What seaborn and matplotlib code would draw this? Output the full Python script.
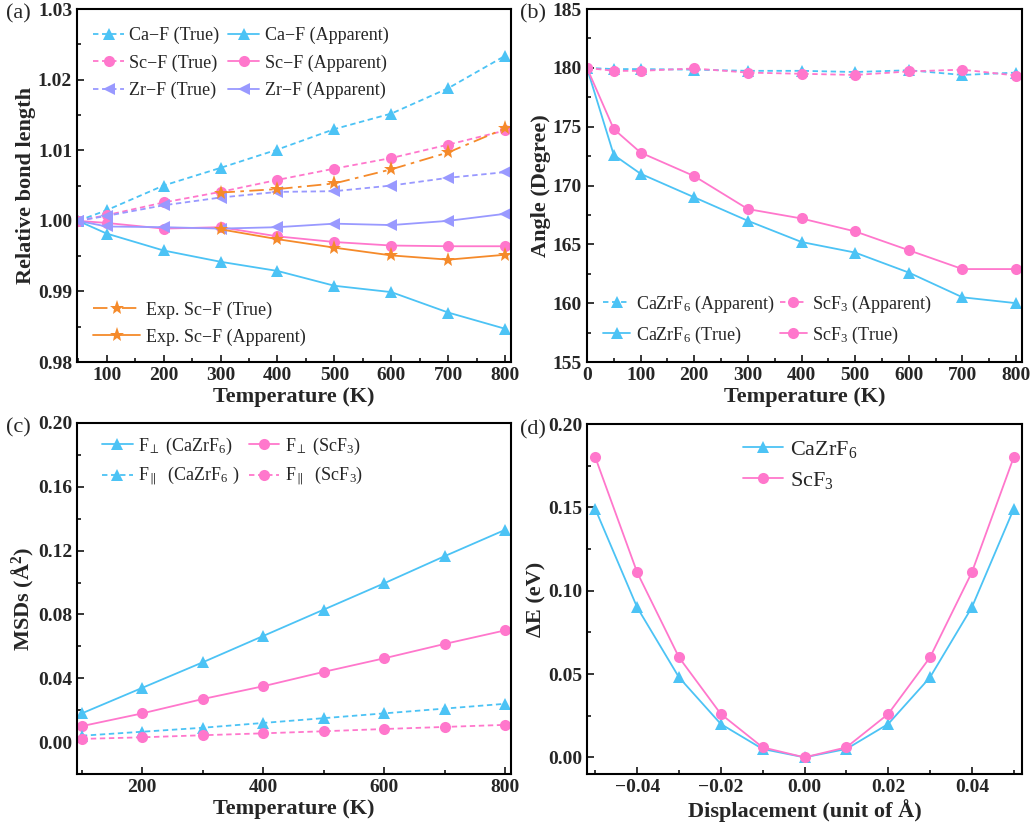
import numpy as np
import pandas as pd
import matplotlib
matplotlib.use("Agg")
import matplotlib.pyplot as plt
from matplotlib.ticker import MultipleLocator
import seaborn as sns

# Panel (a): relative bond length vs temperature
temp_a = [50, 100, 200, 300, 400, 500, 600, 700, 800]
caf_true = [1.000, 1.0015, 1.0050, 1.0075, 1.0101, 1.0130, 1.0152, 1.0188, 1.0234]
caf_app = [1.000, 0.9982, 0.9958, 0.9942, 0.9929, 0.9908, 0.9899, 0.9870, 0.9847]
scf_true = [1.000, 1.0008, 1.0026, 1.0041, 1.0058, 1.0074, 1.0089, 1.0108, 1.0128]
scf_app = [1.000, 0.9997, 0.9989, 0.9991, 0.9978, 0.9970, 0.9965, 0.9964, 0.9964]
zrf_true = [1.000, 1.0007, 1.0022, 1.0033, 1.0041, 1.0042, 1.0050, 1.0061, 1.0069]
zrf_app = [1.000, 0.9992, 0.9991, 0.9989, 0.9991, 0.9996, 0.9994, 1.0000, 1.0010]
temp_exp = [300, 400, 500, 600, 700, 800]
exp_true = [1.0040, 1.0045, 1.0053, 1.0073, 1.0097, 1.0131]
exp_app = [0.9988, 0.9974, 0.9962, 0.9951, 0.9945, 0.9952]

# Panel (b): bond angle vs temperature
temp_b = [0, 50, 100, 200, 300, 400, 500, 600, 700, 800]
ca_ang_app = [180.0, 179.9, 179.9, 179.85, 179.75, 179.75, 179.65, 179.8, 179.4, 179.6]
sc_ang_app = [180.0, 179.75, 179.75, 179.95, 179.6, 179.5, 179.4, 179.7, 179.85, 179.35]
ca_ang_true = [180.0, 172.6, 171.0, 169.0, 167.0, 165.2, 164.3, 162.6, 160.5, 160.0]
sc_ang_true = [180.0, 174.8, 172.8, 170.8, 168.0, 167.2, 166.1, 164.5, 162.9, 162.9]

# Panel (c): MSDs vs temperature
temp_c = [100, 200, 300, 400, 500, 600, 700, 800]
ca_perp = [0.018, 0.034, 0.050, 0.0665, 0.083, 0.0995, 0.1165, 0.133]
sc_perp = [0.010, 0.018, 0.027, 0.035, 0.044, 0.0525, 0.0615, 0.070]
ca_par = [0.004, 0.0065, 0.009, 0.012, 0.015, 0.018, 0.021, 0.024]
sc_par = [0.002, 0.003, 0.0043, 0.0055, 0.0068, 0.0082, 0.0095, 0.0108]

# Panel (d): energy vs displacement
disp = [-0.05, -0.04, -0.03, -0.02, -0.01, 0.0, 0.01, 0.02, 0.03, 0.04, 0.05]
ca_energy = [0.149, 0.090, 0.048, 0.020, 0.005, 0.0, 0.005, 0.020, 0.048, 0.090, 0.149]
sc_energy = [0.180, 0.111, 0.060, 0.026, 0.006, 0.0, 0.006, 0.026, 0.060, 0.111, 0.180]

BLUE = "#4CC3F5"
PINK = "#FF77CC"
LAV = "#9999FF"
ORANGE = "#F58A2A"

sns.set_style("ticks")
plt.rcParams["font.family"] = ["Liberation Serif", "DejaVu Sans"]
plt.rcParams["mathtext.fontset"] = "custom"
plt.rcParams["mathtext.rm"] = "Liberation Serif"
plt.rcParams["mathtext.it"] = "Liberation Serif:italic"
plt.rcParams["mathtext.bf"] = "Liberation Serif:bold"

fig = plt.figure(figsize=(10.33, 8.25), dpi=100)
ax_a = fig.add_axes([0.0745, 0.5612, 0.4202, 0.4278])
ax_b = fig.add_axes([0.5682, 0.5612, 0.4212, 0.4278])
ax_c = fig.add_axes([0.0745, 0.0618, 0.4202, 0.4255])
ax_d = fig.add_axes([0.5682, 0.0618, 0.4212, 0.4242])


def draw(ax, x, y, color, marker, ls, ms=8):
    sns.lineplot(x=x, y=y, ax=ax, color=color, marker=marker, linestyle=ls,
                 linewidth=1.3, markersize=ms, markeredgewidth=0,
                 legend=False, sort=False)
    return ax.lines[-1]


def style_axes(ax):
    for sp in ax.spines.values():
        sp.set_linewidth(1.5)
        sp.set_color("black")
    ax.tick_params(which="both", direction="in", top=False, right=False,
                   width=1.3, labelsize=14)
    ax.tick_params(which="major", length=5)
    ax.tick_params(which="minor", length=3)
    for lab in ax.get_xticklabels() + ax.get_yticklabels():
        lab.set_fontweight("bold")


leg_kw = dict(frameon=False, fontsize=13, handlelength=1.7, handletextpad=0.3,
              columnspacing=0.5, labelspacing=0.55)
DASH = (0, (3, 2))

# (a)
h_ct = draw(ax_a, temp_a, caf_true, BLUE, "^", DASH)
h_ca = draw(ax_a, temp_a, caf_app, BLUE, "^", "-")
h_st = draw(ax_a, temp_a, scf_true, PINK, "o", DASH)
h_sa = draw(ax_a, temp_a, scf_app, PINK, "o", "-")
h_zt = draw(ax_a, temp_a, zrf_true, LAV, "<", DASH)
h_za = draw(ax_a, temp_a, zrf_app, LAV, "<", "-")
h_et = draw(ax_a, temp_exp, exp_true, ORANGE, "*", (0, (8, 3, 2, 3)), ms=11)
h_ea = draw(ax_a, temp_exp, exp_app, ORANGE, "*", "-", ms=11)
ax_a.set_xlim(48, 810)
ax_a.set_ylim(0.98, 1.03)
ax_a.xaxis.set_minor_locator(MultipleLocator(50))
ax_a.yaxis.set_major_locator(MultipleLocator(0.01))
ax_a.yaxis.set_minor_locator(MultipleLocator(0.005))
ax_a.set_xticks([100, 200, 300, 400, 500, 600, 700, 800])
ax_a.yaxis.set_major_formatter(plt.FormatStrFormatter("%.2f"))
ax_a.set_xlabel("Temperature (K)", fontsize=16, fontweight="bold", labelpad=2)
ax_a.set_ylabel("Relative bond length", fontsize=16, fontweight="bold", labelpad=1)
leg1 = ax_a.legend([h_ct, h_st, h_zt, h_ca, h_sa, h_za],
                   ["Ca\u2212F (True)", "Sc\u2212F (True)", "Zr\u2212F (True)",
                    "Ca\u2212F (Apparent)", "Sc\u2212F (Apparent)", "Zr\u2212F (Apparent)"],
                   ncol=2, loc="upper left", bbox_to_anchor=(0.0, 0.995), **leg_kw)
ax_a.add_artist(leg1)
ax_a.legend([h_et, h_ea], ["Exp. Sc\u2212F (True)", "Exp. Sc\u2212F (Apparent)"],
            loc="lower left", bbox_to_anchor=(0.0, 0.0),
            **{**leg_kw, "handlelength": 2.6})
style_axes(ax_a)

# (b)
h1 = draw(ax_b, temp_b, ca_ang_app, BLUE, "^", DASH)
h2 = draw(ax_b, temp_b, sc_ang_app, PINK, "o", DASH)
h3 = draw(ax_b, temp_b, ca_ang_true, BLUE, "^", "-")
h4 = draw(ax_b, temp_b, sc_ang_true, PINK, "o", "-")
ax_b.set_xlim(0, 811)
ax_b.set_ylim(155, 185)
ax_b.xaxis.set_major_locator(MultipleLocator(100))
ax_b.xaxis.set_minor_locator(MultipleLocator(50))
ax_b.yaxis.set_major_locator(MultipleLocator(5))
ax_b.yaxis.set_minor_locator(MultipleLocator(2.5))
ax_b.set_xlabel("Temperature (K)", fontsize=16, fontweight="bold", labelpad=2)
ax_b.set_ylabel("Angle (Degree)", fontsize=16, fontweight="bold", labelpad=1)
ax_b.legend([h1, h3, h2, h4],
            ["CaZrF$_6$ (Apparent)", "CaZrF$_6$ (True)",
             "ScF$_3$ (Apparent)", "ScF$_3$ (True)"],
            ncol=2, loc="lower left", bbox_to_anchor=(0.0, 0.0),
            **{**leg_kw, "handlelength": 1.5, "columnspacing": 0.3})
style_axes(ax_b)

# (c)
c1 = draw(ax_c, temp_c, ca_perp, BLUE, "^", "-")
c2 = draw(ax_c, temp_c, sc_perp, PINK, "o", "-")
c3 = draw(ax_c, temp_c, ca_par, BLUE, "^", DASH)
c4 = draw(ax_c, temp_c, sc_par, PINK, "o", DASH)
ax_c.set_xlim(92, 810)
ax_c.set_ylim(-0.02, 0.20)
ax_c.xaxis.set_major_locator(MultipleLocator(200))
ax_c.xaxis.set_minor_locator(MultipleLocator(100))
ax_c.yaxis.set_minor_locator(MultipleLocator(0.02))
ax_c.set_yticks([0.0, 0.04, 0.08, 0.12, 0.16, 0.20])
ax_c.yaxis.set_major_formatter(plt.FormatStrFormatter("%.2f"))
ax_c.set_xlabel("Temperature (K)", fontsize=16, fontweight="bold", labelpad=2)
ax_c.set_ylabel("MSDs (\u00c5$^{\\mathbf{2}}$)", fontsize=16, fontweight="bold", labelpad=1)
ax_c.legend([c1, c3, c2, c4],
            ["F$_{\\perp}$ (CaZrF$_6$)", "F$_{\\parallel}$  (CaZrF$_6$ )",
             "F$_{\\perp}$ (ScF$_3$)", "F$_{\\parallel}$  (ScF$_3$)"],
            ncol=2, loc="upper left", bbox_to_anchor=(0.02, 1.01),
            **{**leg_kw, "labelspacing": 0.45})
style_axes(ax_c)

# (d)
d1 = draw(ax_d, disp, ca_energy, BLUE, "^", "-")
d2 = draw(ax_d, disp, sc_energy, PINK, "o", "-")
ax_d.set_xlim(-0.052, 0.052)
ax_d.set_ylim(-0.01, 0.20)
ax_d.xaxis.set_minor_locator(MultipleLocator(0.01))
ax_d.yaxis.set_major_locator(MultipleLocator(0.05))
ax_d.yaxis.set_minor_locator(MultipleLocator(0.025))
ax_d.set_xticks([-0.04, -0.02, 0.0, 0.02, 0.04])
ax_d.set_xticklabels(["\u22120.04", "\u22120.02", "0.00", "0.02", "0.04"])
ax_d.yaxis.set_major_formatter(plt.FormatStrFormatter("%.2f"))
ax_d.set_xlabel("Displacement (unit of \u00c5)", fontsize=16, fontweight="bold", labelpad=2)
ax_d.set_ylabel("\u0394E (eV)", fontsize=16, fontweight="bold", labelpad=1)
ax_d.legend([d1, d2], ["CaZrF$_6$", "ScF$_3$"], loc="upper center",
            bbox_to_anchor=(0.49, 1.015), frameon=False, fontsize=16,
            handlelength=1.8, handletextpad=0.3, labelspacing=0.45)
style_axes(ax_d)

# panel labels
for lbl, x, y in [("(a)", 6, 4), ("(b)", 520, 4), ("(c)", 6, 418), ("(d)", 520, 420)]:
    fig.text(x / 1033, 1 - y / 825, lbl, fontsize=16, ha="left", va="top")

fig.savefig("out.png", dpi=100)
